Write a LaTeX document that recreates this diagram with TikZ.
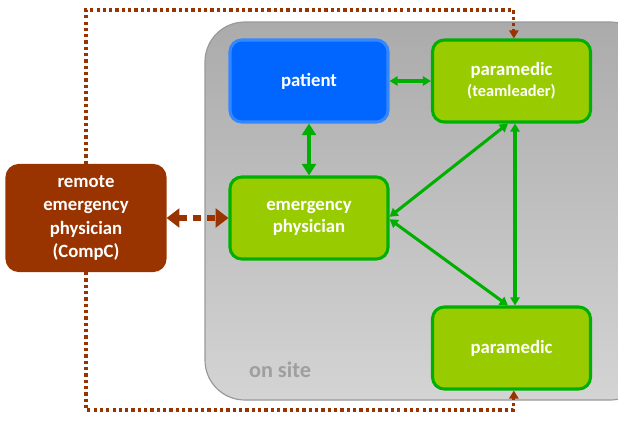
\documentclass[tikz,border=0pt]{standalone}
\usepackage{fontspec}
\setmainfont{Carlito}
\usetikzlibrary{arrows.meta}

\definecolor{pblue}{HTML}{0066FF}
\definecolor{pblueline}{HTML}{3388FF}
\definecolor{lgreen}{HTML}{99CC00}
\definecolor{tgreen}{HTML}{00B000}
\definecolor{rbrown}{HTML}{993300}
\definecolor{sitetop}{HTML}{ABABAB}
\definecolor{sitebot}{HTML}{D4D4D4}

\begin{document}
\begin{tikzpicture}[x=0.03cm, y=-0.03cm,
  box/.style={rounded corners=10pt, minimum width=4.74cm, minimum height=2.46cm,
    align=center, text=white, line width=2.6pt,
    font=\bfseries\fontsize{16}{19}\selectfont},
  crew/.style={box, draw=tgreen, fill=lgreen},
  link/.style={tgreen, line width=2.6pt, {Triangle[length=7pt,width=8pt]}-{Triangle[length=7pt,width=8pt]}},
  remotedots/.style={rbrown, line width=2.8pt, dash pattern=on 2.8pt off 2.6pt,
    -{Triangle[length=7pt,width=8pt]}},
  remotedash/.style={rbrown, line width=4.5pt, dash pattern=on 7pt off 5pt,
    {Triangle[length=11pt,width=16pt]}-{Triangle[length=11pt,width=16pt]}}]

\useasboundingbox (0,0) rectangle (618,421);

% on-site area, runs off the right edge
\begin{scope}
  \clip (0,0) rectangle (618,421);
  \shade[top color=sitetop, bottom color=sitebot, draw=gray!80, line width=1pt,
    rounded corners=34pt] (205,22) rectangle (650,400);
\end{scope}
\node[text=gray!75, font=\bfseries\fontsize{19}{22}\selectfont] (site) at (280,370) {on site};

% first, the boxes
\node[box, draw=pblueline, fill=pblue] (patient) at (309,81) {patient};
\node[crew] (tl) at (511.5,81) {paramedic\\[-1pt]{\fontsize{14}{17}\selectfont(teamleader)}};
\node[crew] (ep) at (309,218) {emergency\\physician};
\node[crew] (pm) at (511.5,348) {paramedic};
\node[box, draw=rbrown, fill=rbrown, minimum height=3.15cm,
  font=\bfseries\fontsize{16}{20}\selectfont] (remote) at (86,218)
  {remote\\emergency\\physician\\(CompC)};

% links between the crew on site
\draw[link] (patient) -- (tl);
\draw[link, line width=4pt, {Triangle[length=10pt,width=12pt]}-{Triangle[length=10pt,width=12pt]}] (patient) -- (ep);
\draw[link] ([yshift=1pt]ep.east) -- ([xshift=-3pt]tl.south);
\draw[link] ([yshift=-1pt]ep.east) -- ([xshift=-3pt]pm.north);
\draw[link] ([xshift=3pt]tl.south) -- ([xshift=3pt]pm.north);

% remote link, top and bottom routes
\coordinate (top) at (0,10);
\coordinate (bot) at (0,410);
\draw[remotedots] (remote.north) -- (remote.north |- top) -| ([xshift=2pt]tl.north);
\draw[remotedots] (remote.south) -- (remote.south |- bot) -| ([xshift=2pt]pm.south);
\draw[remotedash] (remote.east) -- (ep.west);

\end{tikzpicture}
\end{document}
